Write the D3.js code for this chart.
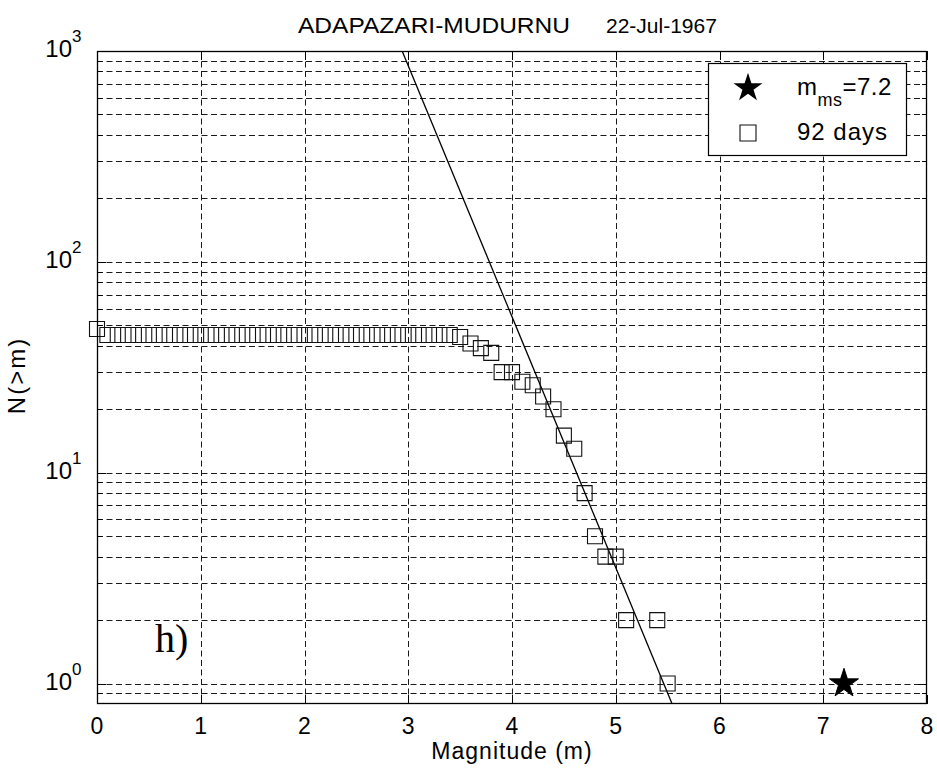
<!DOCTYPE html>
<html>
<head>
<meta charset="utf-8">
<script src="https://cdn.jsdelivr.net/npm/d3@7"></script>
<style>
  html, body { margin: 0; padding: 0; background: #fff; }
  svg { display: block; }
  text { font-family: Arial, "Liberation Sans", Helvetica, sans-serif; fill: #000; }
</style>
</head>
<body>
<svg id="chart" width="937" height="778"></svg>
<script>
// ---------------- data ----------------
const titleLeft = "ADAPAZARI-MUDURNU";
const titleRight = "22-Jul-1967";
const xLabel = "Magnitude (m)";
const yLabel = "N(>m)";
const panelLabel = "h)";

// aftershock cumulative counts (92 days)
const magnitudes = [
  0.0, 0.1, 0.2, 0.3, 0.4, 0.5, 0.6, 0.7, 0.8, 0.9,
  1.0, 1.1, 1.2, 1.3, 1.4, 1.5, 1.6, 1.7, 1.8, 1.9,
  2.0, 2.1, 2.2, 2.3, 2.4, 2.5, 2.6, 2.7, 2.8, 2.9,
  3.0, 3.1, 3.2, 3.3, 3.4, 3.5, 3.6, 3.7, 3.8, 3.9,
  4.0, 4.1, 4.2, 4.3, 4.4, 4.5, 4.6, 4.7, 4.8, 4.9,
  5.0, 5.1, 5.4, 5.5
];
const counts = [
  48, 45, 45, 45, 45, 45, 45, 45, 45, 45,
  45, 45, 45, 45, 45, 45, 45, 45, 45, 45,
  45, 45, 45, 45, 45, 45, 45, 45, 45, 45,
  45, 45, 45, 45, 45, 44, 41, 39, 37, 30,
  30, 27, 26, 23, 20, 15, 13, 8, 5, 4,
  4, 2, 2, 1
];

// main shock
const mainMag = [7.2];
const mainCount = [1];

// fitted Gutenberg-Richter line: log10 N = a - b*m
const fitA = 6.50;
const fitB = 1.19;

const legendLabels = ["=7.2", "92 days"];
const legendSub = "ms";

const xTicks = [0, 1, 2, 3, 4, 5, 6, 7, 8];
const yMajorExp = [0, 1, 2, 3];
const xDomain = [0, 8];
const yDomain = [0.8, 1000];

// ---------------- layout ----------------
const W = 937, H = 778;
const margin = { left: 97, top: 51, right: 10, bottom: 74 };
const x = d3.scaleLinear().domain(xDomain).range([margin.left, W - margin.right]);
const y = d3.scaleLog().domain(yDomain).range([H - margin.bottom, margin.top]);
const x0 = x.range()[0], x1 = x.range()[1];
const y0 = y.range()[0], y1 = y.range()[1];

const svg = d3.select("#chart");

svg.append("clipPath").attr("id", "plotclip")
  .append("rect").attr("x", x0).attr("y", y1).attr("width", x1 - x0).attr("height", y0 - y1);

// ---------- grid ----------
const grid = svg.append("g").attr("stroke", "#1a1a1a").attr("stroke-width", 1)
  .attr("stroke-dasharray", "6,3.5").attr("fill", "none");

const logGrid = [];
for (let e = -1; e <= 3; e++) {
  for (let k = 1; k <= 9; k++) {
    const v = k * Math.pow(10, e);
    if (v > yDomain[0] * 1.0001 && v < yDomain[1] * 0.9999) logGrid.push(v);
  }
}
grid.selectAll("line.h").data(logGrid).enter().append("line")
  .attr("x1", x0).attr("x2", x1)
  .attr("y1", d => Math.round(y(d)) + 0.5).attr("y2", d => Math.round(y(d)) + 0.5);

grid.selectAll("line.v").data(xTicks.filter(t => t > xDomain[0] && t < xDomain[1])).enter().append("line")
  .attr("y1", y0).attr("y2", y1)
  .attr("x1", d => Math.round(x(d)) + 0.5).attr("x2", d => Math.round(x(d)) + 0.5);

// ---------- ticks (inside, mirrored) ----------
const ticks = svg.append("g").attr("stroke", "#000").attr("stroke-width", 1);
xTicks.forEach(t => {
  const px = Math.round(x(t)) + 0.5;
  ticks.append("line").attr("x1", px).attr("x2", px).attr("y1", y0).attr("y2", y0 - 9);
  ticks.append("line").attr("x1", px).attr("x2", px).attr("y1", y1).attr("y2", y1 + 9);
});
logGrid.concat([1000]).forEach(v => {
  const py = Math.round(y(v)) + 0.5;
  const major = Math.abs(Math.log10(v) - Math.round(Math.log10(v))) < 1e-9;
  const len = major ? 9 : 5;
  ticks.append("line").attr("x1", x0).attr("x2", x0 + len).attr("y1", py).attr("y2", py);
  ticks.append("line").attr("x1", x1).attr("x2", x1 - len).attr("y1", py).attr("y2", py);
});

// ---------- fitted line ----------
const mTop = (fitA - Math.log10(yDomain[1])) / fitB;
const mBot = (fitA - Math.log10(yDomain[0])) / fitB;
const fitPts = [mTop, mBot].map(m => [m, Math.pow(10, fitA - fitB * m)]);
svg.append("path")
  .attr("clip-path", "url(#plotclip)")
  .attr("d", d3.line().x(d => x(d[0])).y(d => y(d[1]))(fitPts))
  .attr("stroke", "#000").attr("stroke-width", 1.3).attr("fill", "none");

// ---------- squares ----------
const sq = d3.symbol().type(d3.symbolSquare).size(15 * 15);
svg.append("g").selectAll("path").data(magnitudes.map((m, i) => [m, counts[i]]))
  .enter().append("path")
  .attr("d", sq)
  .attr("transform", d => `translate(${x(d[0])},${y(d[1])})`)
  .attr("fill", "none").attr("stroke", "#111").attr("stroke-width", 1.1);

// ---------- main shock star ----------
const star = d3.symbol().type(d3.symbolStar).size(260);
svg.append("g").selectAll("path").data(mainMag.map((m, i) => [m, mainCount[i]]))
  .enter().append("path")
  .attr("d", star)
  .attr("transform", d => `translate(${x(d[0])},${y(d[1])})`)
  .attr("fill", "#000").attr("stroke", "#000");

// ---------- frame ----------
svg.append("rect").attr("x", x0 + 0.5).attr("y", y1 + 0.5)
  .attr("width", x1 - x0 - 1).attr("height", y0 - y1 - 1)
  .attr("fill", "none").attr("stroke", "#000").attr("stroke-width", 1.3);

// ---------- tick labels ----------
svg.append("g").selectAll("text").data(xTicks).enter().append("text")
  .attr("x", d => x(d)).attr("y", y0 + 30)
  .attr("text-anchor", "middle").attr("font-size", 23)
  .text(d => d);

const yl = svg.append("g");
yMajorExp.forEach(e => {
  yl.append("text").attr("x", 72).attr("y", y(Math.pow(10, e)) + 6)
    .attr("text-anchor", "end").attr("font-size", 24).text("10");
  yl.append("text").attr("x", 72).attr("y", y(Math.pow(10, e)) - 9)
    .attr("text-anchor", "start").attr("font-size", 17).text(e);
});

// ---------- axis labels & title ----------
svg.append("text").attr("x", (x0 + x1) / 2).attr("y", 759)
  .attr("text-anchor", "middle").attr("font-size", 23)
  .attr("letter-spacing", 1).text(xLabel);

svg.append("text")
  .attr("transform", `translate(25,${(y0 + y1) / 2 - 2}) rotate(-90)`)
  .attr("text-anchor", "middle").attr("font-size", 24)
  .attr("letter-spacing", 2).text(yLabel);

const title = svg.append("g");
title.append("text").attr("x", 298).attr("y", 33).attr("font-size", 22)
  .attr("textLength", 272).attr("lengthAdjust", "spacingAndGlyphs").text(titleLeft);
title.append("text").attr("x", 606).attr("y", 33).attr("font-size", 21)
  .text(titleRight);

svg.append("text").attr("x", 155).attr("y", 652)
  .style("font-family", "'Liberation Serif', 'Times New Roman', serif")
  .attr("font-size", 40).text(panelLabel);

// ---------- legend ----------
const lg = svg.append("g");
lg.append("rect").attr("x", 708.5).attr("y", 63.5).attr("width", 198).attr("height", 92)
  .attr("fill", "#fff").attr("stroke", "#000").attr("stroke-width", 1.2);
lg.append("path").attr("d", star).attr("transform", "translate(748,88)").attr("fill", "#000");
lg.append("path").attr("d", d3.symbol().type(d3.symbolSquare).size(16 * 16))
  .attr("transform", "translate(748,133)").attr("fill", "none").attr("stroke", "#111").attr("stroke-width", 1.1);
const l1 = lg.append("text").attr("x", 797).attr("y", 95).attr("font-size", 24).attr("letter-spacing", 0.5);
l1.append("tspan").text("m");
l1.append("tspan").attr("dy", 11).attr("font-size", 18).text(legendSub);
l1.append("tspan").attr("dy", -11).text(legendLabels[0]);
lg.append("text").attr("x", 797).attr("y", 140).attr("font-size", 24).attr("letter-spacing", 1)
  .text(legendLabels[1]);
</script>
</body>
</html>
